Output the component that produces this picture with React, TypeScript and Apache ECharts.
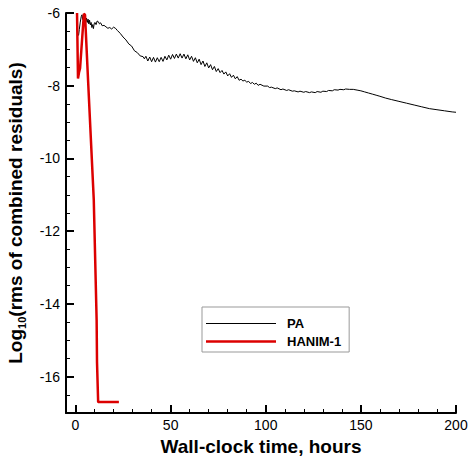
import React, { useEffect, useRef } from "react";
import * as echarts from "echarts";

// PA residual history: [wall-clock hours, log10 rms]
const paSeries: [number, number][] = [
  [1.6, -6.62], [2.0, -6.45], [2.5, -6.25], [3.0, -6.1], [3.4, -6.05], [3.8, -6.18],
  [4.2, -6.08], [4.6, -6.2], [5.0, -6.1], [5.4, -6.24], [5.8, -6.14], [6.2, -6.26],
  [6.6, -6.17], [7.0, -6.3], [7.4, -6.2], [7.8, -6.33], [8.2, -6.26], [8.6, -6.4],
  [9.0, -6.32], [9.4, -6.43], [9.8, -6.3], [10.2, -6.26], [10.8, -6.32], [11.4, -6.22],
  [12.0, -6.24], [12.6, -6.3], [13.2, -6.27], [14.0, -6.35], [15.0, -6.34], [16.0, -6.38],
  [17.0, -6.42], [18.0, -6.4], [19.0, -6.44], [20.0, -6.39], [21.0, -6.42], [22.0, -6.48],
  [23.5, -6.56], [25.0, -6.66], [26.5, -6.74], [28.0, -6.85], [29.5, -6.91], [31.0, -7.04],
  [32.5, -7.09], [34.0, -7.18], [35.5, -7.2], [36.2, -7.26],
  [37, -7.19], [38, -7.32], [39, -7.21], [40, -7.34], [41, -7.22], [42, -7.35],
  [43, -7.23], [44, -7.34], [45, -7.22], [46, -7.33], [47, -7.19], [48, -7.29],
  [49, -7.16], [50, -7.27], [51, -7.14], [52, -7.25], [53, -7.13], [54, -7.24],
  [55, -7.12], [56, -7.24], [57, -7.13], [58, -7.26], [59, -7.15], [60, -7.29],
  [61, -7.19], [62, -7.33], [63, -7.23], [64, -7.37], [65, -7.27], [66, -7.42],
  [67, -7.32], [68, -7.47], [69, -7.37], [70, -7.51], [71, -7.42], [72, -7.56],
  [73, -7.47], [74, -7.61], [75, -7.53], [76, -7.64], [77, -7.58], [78, -7.68],
  [79, -7.62], [80, -7.73], [81, -7.67], [82, -7.77], [83, -7.71], [84, -7.81],
  [85, -7.75], [86, -7.85], [87, -7.82], [88, -7.87], [89, -7.85], [90, -7.9],
  [91, -7.88], [92, -7.94], [93, -7.91], [94, -7.96], [95, -7.93], [96, -7.99],
  [97, -7.96], [99, -8.01], [101, -8.01], [102, -8.05], [103, -8.04], [105, -8.08],
  [106, -8.06], [108, -8.11], [109, -8.09], [111, -8.13], [112, -8.11], [114, -8.15],
  [115, -8.14], [117, -8.17], [118, -8.15], [120, -8.18], [121, -8.16], [123, -8.19],
  [124, -8.17], [126, -8.19], [127, -8.16], [129, -8.18], [130, -8.15], [132, -8.16],
  [133, -8.13], [135, -8.14], [136, -8.11], [138, -8.12], [139, -8.1], [141, -8.11],
  [142, -8.09], [144, -8.1], [146, -8.1], [148, -8.12], [150, -8.14], [152, -8.17],
  [154, -8.2], [156, -8.23], [158, -8.26], [160, -8.29], [163, -8.34], [166, -8.38],
  [170, -8.43], [174, -8.48], [178, -8.53], [182, -8.58], [186, -8.63], [190, -8.66],
  [194, -8.69], [198, -8.72], [200, -8.73],
];

// HANIM-1 residual history
const hanimSeries: [number, number][] = [
  [0.8, -6.0], [1.3, -7.8], [1.9, -7.62], [2.4, -7.52], [4.4, -6.02], [5.0, -6.05],
  [6.6, -7.85], [9.6, -11.14], [11.1, -14.44], [11.3, -15.6], [11.9, -16.7], [22.8, -16.7],
];

const seriesNames = ["PA", "HANIM-1"];
const seriesColors = ["#000000", "#dc0000"];
const seriesWidths = [1, 2.5];
const xMajorTicks = [0, 50, 100, 150, 200];
const xMinorTicks = [10, 20, 30, 40, 60, 70, 80, 90, 110, 120, 130, 140, 160, 170, 180, 190];
const yMajorTicks = [-6, -8, -10, -12, -14, -16];
const yMinorTicks = [
  -6.5, -7, -7.5, -8.5, -9, -9.5, -10.5, -11, -11.5, -12.5, -13, -13.5, -14.5, -15, -15.5, -16.5,
];
const xRange = [-5, 200];
const yRange = [-17, -6];

const FONT = "Liberation Sans, Arial, Helvetica, sans-serif";

export default function App() {
  const ref = useRef<HTMLDivElement>(null);

  useEffect(() => {
    if (!ref.current) return;
    const chart = echarts.init(ref.current, undefined, { renderer: "svg" });

    const majorTickStyle = { color: "#000", width: 2 };
    const minorTickStyle = { color: "#000", width: 1 };

    // legend swatches: plain strokes of each series' thickness
    const legendData = seriesNames.map((name, i) => ({
      name,
      icon: `path://M0,0H70V${seriesWidths[i]}H0Z`,
      itemStyle: { color: seriesColors[i], borderWidth: 0 },
    }));

    chart.setOption({
      animation: false,
      backgroundColor: "#fff",
      grid: {
        left: 66,
        right: 13,
        top: 13,
        bottom: 44,
        containLabel: false,
        outerBoundsMode: "none",
      },
      legend: {
        orient: "vertical",
        left: 202,
        top: 307,
        data: legendData,
        itemWidth: 70,
        itemHeight: 14,
        itemGap: 5,
        padding: [10, 8, 4, 4],
        borderColor: "#999",
        borderWidth: 1,
        backgroundColor: "#fff",
        textStyle: {
          fontFamily: FONT,
          fontWeight: "bold",
          fontSize: 13,
          color: "#000",
          padding: [0, 0, 0, 6],
        },
      },
      xAxis: [
        {
          type: "value",
          position: "bottom",
          min: xRange[0],
          max: xRange[1],
          name: "Wall-clock time, hours",
          nameLocation: "middle",
          nameGap: 21,
          nameTextStyle: {
            fontFamily: FONT,
            fontWeight: "bold",
            fontSize: 19,
            color: "#000",
            verticalAlign: "top",
          },
          axisLine: { show: true, onZero: false, lineStyle: { color: "#000", width: 2 } },
          axisTick: {
            show: true,
            inside: true,
            length: 8,
            customValues: xMajorTicks,
            lineStyle: majorTickStyle,
          },
          axisLabel: {
            customValues: xMajorTicks,
            fontFamily: FONT,
            fontSize: 14,
            color: "#000",
            margin: 5,
          },
          splitLine: { show: false },
        },
        {
          type: "value",
          position: "bottom",
          min: xRange[0],
          max: xRange[1],
          axisLine: { show: false, onZero: false },
          axisTick: {
            show: true,
            inside: true,
            length: 4,
            customValues: xMinorTicks,
            lineStyle: minorTickStyle,
          },
          axisLabel: { show: false },
          splitLine: { show: false },
        },
      ],
      yAxis: [
        {
          type: "value",
          position: "left",
          min: yRange[0],
          max: yRange[1],
          name: "{a|Log}{s|10}{a|(rms of combined residuals)}",
          nameLocation: "middle",
          nameGap: 39,
          nameTextStyle: {
            fontFamily: FONT,
            fontWeight: "bold",
            fontSize: 19,
            color: "#000",
            rich: {
              a: { fontFamily: FONT, fontWeight: "bold", fontSize: 19, color: "#000", lineHeight: 23 },
              s: {
                fontFamily: FONT,
                fontWeight: "bold",
                fontSize: 11,
                color: "#000",
                lineHeight: 12,
                verticalAlign: "bottom",
              },
            },
          },
          axisLine: { show: true, onZero: false, lineStyle: { color: "#000", width: 2 } },
          axisTick: {
            show: true,
            inside: true,
            length: 8,
            customValues: yMajorTicks,
            lineStyle: majorTickStyle,
          },
          axisLabel: {
            customValues: yMajorTicks,
            fontFamily: FONT,
            fontSize: 14,
            color: "#000",
            margin: 6,
          },
          splitLine: { show: false },
        },
        {
          type: "value",
          position: "left",
          min: yRange[0],
          max: yRange[1],
          axisLine: { show: false, onZero: false },
          axisTick: {
            show: true,
            inside: true,
            length: 4,
            customValues: yMinorTicks,
            lineStyle: minorTickStyle,
          },
          axisLabel: { show: false },
          splitLine: { show: false },
        },
      ],
      series: [
        {
          name: seriesNames[0],
          type: "line",
          xAxisIndex: 0,
          yAxisIndex: 0,
          data: paSeries,
          showSymbol: false,
          symbol: "none",
          lineStyle: { color: seriesColors[0], width: seriesWidths[0] },
          itemStyle: { color: seriesColors[0] },
        },
        {
          name: seriesNames[1],
          type: "line",
          xAxisIndex: 0,
          yAxisIndex: 0,
          data: hanimSeries,
          showSymbol: false,
          symbol: "none",
          lineStyle: { color: seriesColors[1], width: seriesWidths[1] },
          itemStyle: { color: seriesColors[1] },
        },
      ],
    });

    return () => chart.dispose();
  }, []);

  return <div ref={ref} style={{ width: 469, height: 457, position: "absolute", left: 0, top: 0 }} />;
}
